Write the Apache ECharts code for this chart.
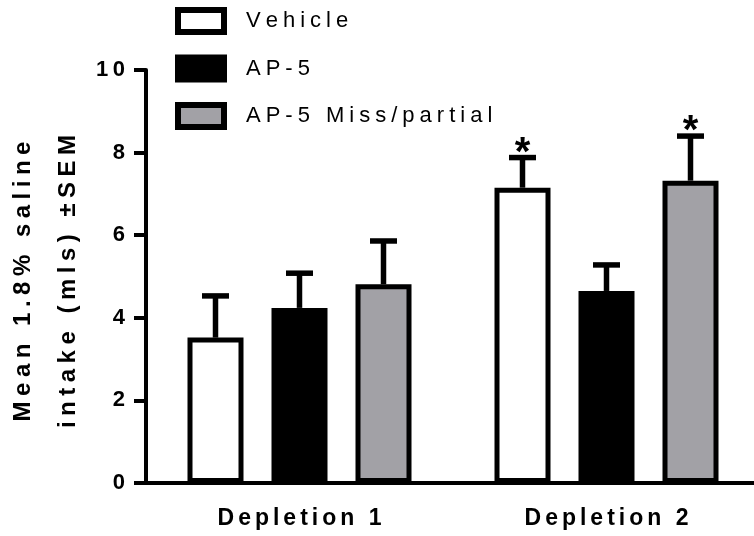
<!DOCTYPE html>
<html>
<head>
<meta charset="utf-8">
<script src="https://cdn.jsdelivr.net/npm/echarts@6/dist/echarts.min.js"></script>
<style>
  html, body { margin: 0; padding: 0; background: #fff; }
  #chart { width: 754px; height: 536px; }
</style>
</head>
<body>
<div id="chart"></div>
<script>
// Groups on the x axis
const categories = ['Depletion 1', 'Depletion 2'];
// Treatment groups (legend order)
const groupNames = ['Vehicle', 'AP-5', 'AP-5 Miss/partial'];
// Mean 1.8% saline intake (mls) per group
const vehicleMean = [3.52, 7.15];
const ap5Mean = [4.24, 4.65];
const missMean = [4.81, 7.32];
// SEM per group
const vehicleSem = [1.01, 0.73];
const ap5Sem = [0.84, 0.63];
const missSem = [1.05, 1.08];
// Significance markers shown above the error bars
const vehicleSig = ['', '*'];
const ap5Sig = ['', ''];
const missSig = ['', '*'];
// Y axis ticks
const yMin = 0, yMax = 10, yStep = 2;
const yTitle = ['Mean 1.8% saline', 'intake (mls) \u00B1SEM'];

const FONT = '"Liberation Sans", Arial, sans-serif';
const BAR_W = 56;
const BAR_GAP = 0.5;
const fills = ['#ffffff', '#000000', '#a2a1a6'];
const means = [vehicleMean, ap5Mean, missMean];
const sems = [vehicleSem, ap5Sem, missSem];
const sigs = [vehicleSig, ap5Sig, missSig];

// Letter-spaced text: each character becomes a rich token with right padding
function spaced(s) {
  const chars = s.split('');
  return chars.map((c, i) => '{' + (i < chars.length - 1 ? 'g' : 'e') + '|' + c + '}').join('');
}
function richSpaced(gap, base, endPad) {
  return {
    g: Object.assign({ padding: [0, gap, 0, 0] }, base),
    e: Object.assign({ padding: [0, endPad || 0, 0, 0] }, base)
  };
}

const chart = echarts.init(document.getElementById('chart'), null, { renderer: 'canvas' });

const barSeries = groupNames.map((name, i) => ({
  name: name,
  type: 'bar',
  barWidth: BAR_W,
  barGap: (BAR_GAP * 100) + '%',
  data: means[i],
  itemStyle: { color: fills[i], borderColor: '#000', borderWidth: 5 },
  z: 2
}));

const errSeries = groupNames.map((name, i) => ({
  type: 'custom',
  name: name + ' SEM',
  z: 3,
  data: categories.map((c, k) => [k, means[i][k], means[i][k] + sems[i][k]]),
  renderItem: function (params, api) {
    const k = api.value(0);
    const offset = (i - 1) * BAR_W * (1 + BAR_GAP);
    const base = api.coord([k, api.value(1)]);
    const top = api.coord([k, api.value(2)]);
    const x = base[0] + offset;
    const capHalf = 13.5;
    const children = [
      { type: 'line', shape: { x1: x, y1: base[1], x2: x, y2: top[1] }, style: { stroke: '#000', lineWidth: 5.5 } },
      { type: 'line', shape: { x1: x - capHalf, y1: top[1], x2: x + capHalf, y2: top[1] }, style: { stroke: '#000', lineWidth: 5.5 } }
    ];
    const mark = sigs[i][k];
    if (mark) {
      children.push({
        type: 'text',
        style: {
          text: mark, x: x, y: top[1] + 16,
          align: 'center', verticalAlign: 'bottom',
          font: 'bold 40px ' + FONT, fill: '#000'
        }
      });
    }
    return { type: 'group', children: children };
  },
  silent: true
}));

const tickBase = { fontFamily: FONT, fontWeight: 'bold', fontSize: 22, color: '#000' };
const catBase = { fontFamily: FONT, fontWeight: 'bold', fontSize: 23, color: '#000' };
const legBase = { fontFamily: FONT, fontSize: 22, color: '#000', lineHeight: 22 };
const titleBase = { fontFamily: FONT, fontWeight: 'bold', fontSize: 24, color: '#000', lineHeight: 45 };

chart.setOption({
  animation: false,
  backgroundColor: '#fff',
  grid: { left: 146, right: -6, top: 70, bottom: 53, containLabel: false, outerBoundsMode: 'none' },
  legend: {
    data: groupNames,
    orient: 'vertical',
    left: 175,
    top: 7,
    padding: 0,
    icon: 'rect',
    itemWidth: 46,
    itemHeight: 22,
    itemGap: 19.5,
    itemStyle: { borderColor: '#000', borderWidth: 6 },
    formatter: function (n) { return '{p|}' + spaced(n); },
    textStyle: Object.assign({
      rich: Object.assign({ p: { width: 17, lineHeight: 22 } }, richSpaced(5, legBase))
    }, legBase)
  },
  xAxis: {
    type: 'category',
    data: categories,
    axisLine: { lineStyle: { color: '#000', width: 4 } },
    axisTick: { alignWithLabel: true, interval: 0, length: 10, lineStyle: { color: '#000', width: 4 } },
    axisLabel: Object.assign({
      margin: 24,
      interval: 0,
      hideOverlap: false,
      formatter: function (v) { return spaced(v); },
      rich: richSpaced(4, catBase)
    }, catBase)
  },
  yAxis: {
    type: 'value',
    min: yMin, max: yMax, interval: yStep,
    splitLine: { show: false },
    axisLine: { show: true, lineStyle: { color: '#000', width: 4 } },
    axisTick: { show: true, length: 12, lineStyle: { color: '#000', width: 4 } },
    axisLabel: Object.assign({
      margin: 21,
      formatter: function (v) { return spaced(String(v)); },
      rich: richSpaced(4.5, tickBase)
    }, tickBase),
    name: yTitle.map(spaced).join('\n'),
    nameLocation: 'middle',
    nameRotate: 90,
    nameGap: 55,
    nameMoveOverlap: false,
    nameTextStyle: Object.assign({ rich: richSpaced(5.5, titleBase, 10) }, titleBase)
  },
  series: barSeries.concat(errSeries)
});
</script>
</body>
</html>
